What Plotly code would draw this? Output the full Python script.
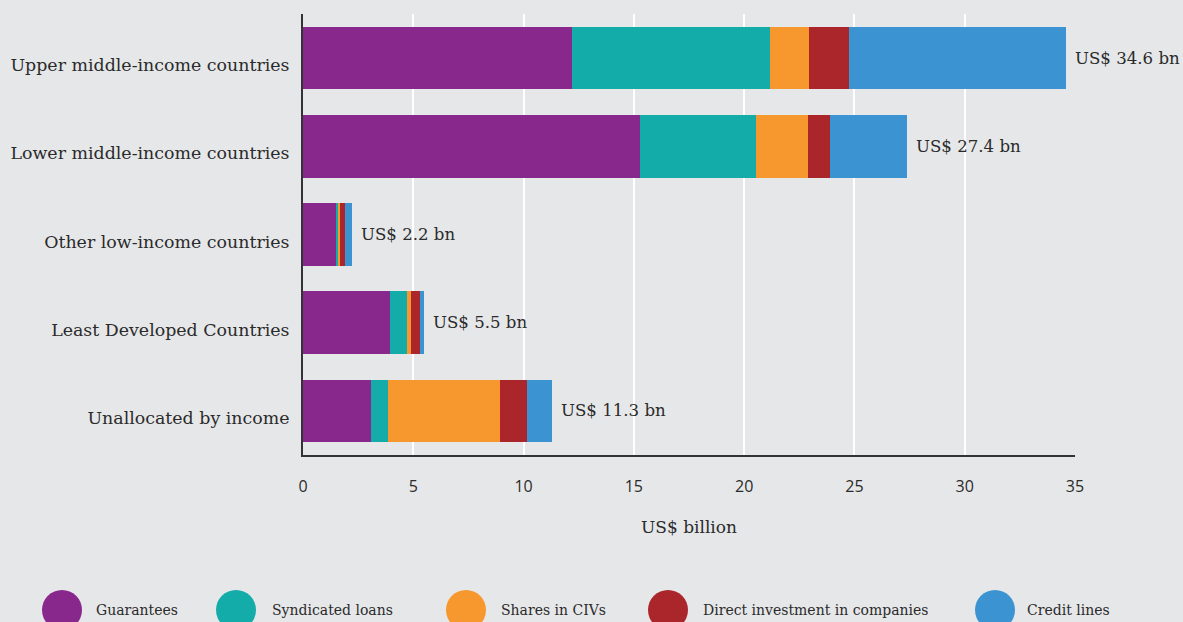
import plotly.graph_objects as go

# Income groups, top to bottom
categories = [
    "Upper middle-income countries",
    "Lower middle-income countries",
    "Other low-income countries",
    "Least Developed Countries",
    "Unallocated by income",
]

# Amounts mobilised by instrument (US$ billion)
guarantees = [12.2, 15.3, 1.5, 3.95, 3.1]
syndicated_loans = [8.95, 5.25, 0.1, 0.75, 0.75]
shares_in_civs = [1.8, 2.35, 0.07, 0.2, 5.1]
direct_investment = [1.8, 1.0, 0.23, 0.4, 1.2]
credit_lines = [9.85, 3.5, 0.3, 0.2, 1.15]

totals = [34.6, 27.4, 2.2, 5.5, 11.3]

x_ticks = [0, 5, 10, 15, 20, 25, 30, 35]

series = [
    ("Guarantees", guarantees, "#88288c"),
    ("Syndicated loans", syndicated_loans, "#13aca9"),
    ("Shares in CIVs", shares_in_civs, "#f7982f"),
    ("Direct investment in companies", direct_investment, "#ab262b"),
    ("Credit lines", credit_lines, "#3b93d2"),
]

BG = "#e6e7e9"
TEXT = "#2b2b2b"
SERIF = "DejaVu Serif"
SANS = "Open Sans"

fig = go.Figure()
for name, vals, color in series:
    fig.add_trace(go.Bar(
        y=categories, x=vals, name=name, orientation="h",
        marker=dict(color=color, line=dict(width=0)),
        width=0.71, showlegend=False,
    ))

# Total labels at the end of each bar
for cat, tot in zip(categories, totals):
    fig.add_annotation(
        x=tot, y=cat, xref="x", yref="y",
        text=f"US$ {tot:g} bn", showarrow=False,
        xanchor="left", yanchor="middle", xshift=7,
        font=dict(family=SERIF, size=16.6, color=TEXT),
    )

# Legend drawn as large circles with labels underneath the chart
plot_l, plot_r, plot_t, plot_b = 303, 1075, 14, 455
pw, ph = plot_r - plot_l, plot_b - plot_t
circle_px = [62, 236, 466, 668, 995]
label_px = [94, 270, 499, 701, 1025]
legend_py = 610
for (name, _, color), cx, tx in zip(series, circle_px, label_px):
    fig.add_shape(
        type="circle", xref="paper", yref="paper",
        xsizemode="pixel", ysizemode="pixel",
        xanchor=(cx - plot_l) / pw, yanchor=(plot_b - legend_py) / ph,
        x0=-20, x1=20, y0=-20, y1=20,
        fillcolor=color, line=dict(width=0), layer="above",
    )
    fig.add_annotation(
        x=(tx - plot_l) / pw, y=(plot_b - legend_py) / ph,
        xref="paper", yref="paper", text=name, showarrow=False,
        xanchor="left", yanchor="middle",
        font=dict(family=SERIF, size=14, color=TEXT),
    )

fig.update_layout(
    width=1183, height=622,
    margin=dict(l=plot_l, r=1183 - plot_r, t=plot_t, b=622 - plot_b),
    barmode="stack",
    paper_bgcolor=BG, plot_bgcolor=BG,
    font=dict(family=SERIF, color=TEXT),
)
fig.update_xaxes(
    range=[0, 35], tickvals=x_ticks, ticktext=[str(t) for t in x_ticks],
    showgrid=True, gridcolor="#ffffff", gridwidth=2,
    showline=True, linecolor="#333333", linewidth=2,
    ticks="", ticklabelstandoff=16,
    tickfont=dict(family=SANS, size=16, color=TEXT),
    title=dict(text="US$ billion", font=dict(family=SERIF, size=17, color=TEXT), standoff=25),
    zeroline=False, automargin=False,
)
fig.update_yaxes(
    categoryorder="array", categoryarray=categories,
    range=[4.5, -0.5],
    showgrid=False, showline=True, linecolor="#333333", linewidth=2,
    ticks="", ticklabelstandoff=8, ticklabelshift=-7,
    tickfont=dict(family=SERIF, size=17.4, color=TEXT),
    automargin=False,
)

fig.write_html("out.html")
